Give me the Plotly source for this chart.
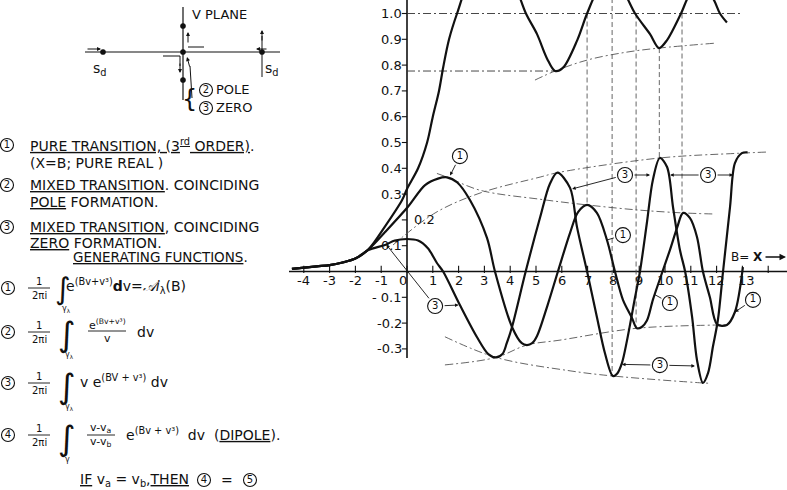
import plotly.graph_objects as go

# ---------------- data ----------------
# Curve (1): pure transition, 3rd order
B_PURE = [-4.46, -3.5, -3.0, -2.5, -2.0, -1.5, -0.85, 0.03, 0.7, 1.2, 1.55, 1.95, 2.44, 3.1, 3.41,
          4.07, 4.45, 4.65, 4.85, 5.04, 5.45, 5.85, 6.32, 6.63, 6.98, 7.36, 7.75, 8.06, 8.37, 8.72,
          8.91, 9.1, 9.3, 9.53, 9.8, 10.19, 10.47, 10.7, 10.97, 11.24, 11.47, 11.74, 12.02, 12.4,
          12.71, 13.02]
V_PURE = [0.01, 0.02, 0.025, 0.035, 0.05, 0.085, 0.153, 0.25, 0.335, 0.36, 0.365, 0.345, 0.277,
          0.13, 0.0, -0.215, -0.278, -0.285, -0.278, -0.25, -0.13, 0.0, 0.15, 0.23, 0.258, 0.227,
          0.122, 0.0, -0.11, -0.18, -0.22, -0.215, -0.19, -0.11, -0.03, 0.083, 0.17, 0.227, 0.207,
          0.134, 0.0, -0.1, -0.205, -0.207, -0.157, 0.017]

# Curve (3): mixed transition, coinciding zero formation
B_ZERO = [-4.46, -3.5, -3.0, -2.5, -2.0, -1.5, -0.85, -0.47, 0.0, 0.43, 0.81, 1.16, 1.4, 2.05, 2.71,
          3.15, 3.45, 3.7, 3.87, 4.07, 4.6, 5.16, 5.54, 5.83, 6.32, 6.59, 6.98, 7.36, 7.67, 7.98,
          8.15, 8.33, 8.53, 8.84, 9.03, 9.3, 9.53, 9.8, 10.08, 10.31, 10.58, 10.78, 11.05, 11.24,
          11.47, 11.67, 11.86, 12.05, 12.25, 12.52, 12.71, 12.98, 13.2]
V_ZERO = [0.01, 0.02, 0.025, 0.035, 0.05, 0.083, 0.103, 0.12, 0.126, 0.12, 0.09, 0.033, 0.0, -0.13,
          -0.254, -0.32, -0.333, -0.32, -0.277, -0.215, 0.0, 0.21, 0.34, 0.383, 0.324, 0.172, 0.0,
          -0.176, -0.316, -0.405, -0.395, -0.355, -0.266, -0.1, 0.0, 0.19, 0.355, 0.44, 0.405, 0.25,
          0.083, 0.0, -0.176, -0.343, -0.432, -0.393, -0.29, -0.188, 0.0, 0.25, 0.42, 0.459, 0.462]

# Large curve: mixed transition, coinciding pole formation
B_POLE = [-4.46, -3.5, -3.0, -2.5, -2.0, -1.5, -0.85, -0.19, 0.0, 0.43, 0.78, 1.0, 1.24, 1.4, 1.63,
          1.94, 2.6, 3.3, 4.0, 4.61, 5.04, 5.43, 5.74, 6.05, 6.6, 6.98, 7.45, 7.87, 8.3, 8.84, 9.42,
          9.77, 10.08, 10.62, 11.0, 11.4, 11.85, 12.13, 12.4]
V_POLE = [0.01, 0.02, 0.025, 0.035, 0.05, 0.085, 0.175, 0.277, 0.32, 0.4, 0.5, 0.6, 0.7, 0.79, 0.9,
          1.0, 1.17, 1.22, 1.15, 1.0, 0.92, 0.825, 0.777, 0.79, 0.897, 1.0, 1.1, 1.13, 1.1, 1.0,
          0.92, 0.866, 0.897, 1.0, 1.08, 1.1, 1.06, 1.0, 0.965]

# envelopes (construction lines)
ENV_POLE_B = [4.96, 5.74, 7.0, 8.5, 9.77, 11.94]
ENV_POLE_V = [0.742, 0.777, 0.82, 0.85, 0.866, 0.885]
ENV_ZMAX_B = [-0.54, 1.09, 2.83, 5.16, 5.83, 9.8, 12.8, 13.95]
ENV_ZMAX_V = [0.103, 0.227, 0.304, 0.366, 0.383, 0.44, 0.458, 0.463]
ENV_PMAX_B = [1.16, 1.55, 2.83, 5.16, 6.98, 9.0, 10.7, 11.86]
ENV_PMAX_V = [0.38, 0.366, 0.315, 0.28, 0.258, 0.238, 0.227, 0.223]
ENV_ZMIN_B = [1.47, 3.45, 6.32, 7.98, 11.47, 11.7]
ENV_ZMIN_V = [-0.253, -0.333, -0.385, -0.405, -0.432, -0.433]
ENV_PMIN_B = [1.47, 3.45, 4.65, 5.93, 8.91, 12.1, 12.35]
ENV_PMIN_V = [-0.362, -0.333, -0.285, -0.266, -0.22, -0.207, -0.206]

# projection lines
HREF_V = [1.0, 0.777]
HREF_B_END = [13.0, 5.74]
VREF_B = [6.98, 7.95, 8.88, 9.78, 10.66]
VREF_TOP = [1.0, 1.06, 1.0, 0.866, 1.0]
VREF_BOT = [0.258, -0.405, -0.22, 0.44, 0.227]

X_TICKS = list(range(-4, 15))
X_TICK_LABELS = ['-4', '-3', '-2', '-1', '0', '1', '2', '3', '4', '5', '6', '7', '8', '9', '10',
                 '11', '12', '13', '']
Y_TICKS = [-0.3, -0.2, -0.1, 0.1, 0.2, 0.3, 0.4, 0.5, 0.6, 0.7, 0.8, 0.9, 1.0]
Y_TICK_LABELS = ['-0.3', '-0.2', '- 0.1', '0.1', '0.2', '0.3', '0.4', '0.5', '0.6', '0.7', '0.8',
                 '0.9', '1.0']

# ---------------- geometry ----------------
W, H = 787, 490
X0PX, XPU = 407.0, 25.8
Y0PX, YPU = 271.5, 258.0
def bx(px): return (px - X0PX) / XPU
def vy(py): return (Y0PX - py) / YPU

INK = '#111111'
GREY = '#555555'
FONT = 'DejaVu Sans'

fig = go.Figure()

def lines(xs, ys, width, dash='solid', color=INK, shape='linear'):
    fig.add_trace(go.Scatter(x=xs, y=ys, mode='lines', hoverinfo='skip', showlegend=False,
                             line=dict(color=color, width=width, dash=dash, shape=shape)))

# axes
lines([bx(289), bx(787) + 1], [0, 0], 1.6)
lines([0, 0], [-0.335, 1.1], 1.6)
tx, ty = [], []
for t in X_TICKS:
    tx += [t, t, None]; ty += [-0.006, 0.022, None]
lines(tx, ty, 1.1)
yx, yy = [], []
for v in Y_TICKS:
    yx += [-0.2, 0, None]; yy += [v, v, None]
lines(yx, yy, 1.1)

# construction lines
ENV_DASH = '8px,3px,2px,3px'
for eb, ev in [(ENV_POLE_B, ENV_POLE_V), (ENV_ZMAX_B, ENV_ZMAX_V), (ENV_PMAX_B, ENV_PMAX_V),
               (ENV_ZMIN_B, ENV_ZMIN_V), (ENV_PMIN_B, ENV_PMIN_V)]:
    lines(eb, ev, 0.9, ENV_DASH, GREY, 'spline')
for v, e in zip(HREF_V, HREF_B_END):
    lines([0, e], [v, v], 0.9, ENV_DASH, '#333333')
for b, t, bt in zip(VREF_B, VREF_TOP, VREF_BOT):
    lines([b, b], [t, bt], 0.9, '5px,3px', GREY)

# curves
for b, v in [(B_POLE, V_POLE), (B_PURE, V_PURE), (B_ZERO, V_ZERO)]:
    fig.add_trace(go.Scatter(x=b, y=v, mode='lines', hoverinfo='skip', showlegend=False,
                             line=dict(color=INK, width=2.2, shape='spline', smoothing=0.9)))

ann = []
def A(**k):
    k.setdefault('showarrow', False)
    k.setdefault('font', dict(family=FONT, size=12, color=INK))
    ann.append(k)

# tick labels
for t, lab in zip(X_TICKS, X_TICK_LABELS):
    A(x=t, y=vy(280), text=lab, xanchor='center', yanchor='middle',
      xshift=-4 if t == 0 else (4 if t >= 13 else 0), font=dict(family=FONT, size=13, color=INK))
for v, lab in zip(Y_TICKS, Y_TICK_LABELS):
    if lab == '0.2':
        A(x=bx(412), y=v, text=lab, xanchor='left', yanchor='middle',
          font=dict(family=FONT, size=13, color=INK))
    else:
        A(x=bx(404), y=v, text=lab, xanchor='right', yanchor='middle',
          font=dict(family=FONT, size=13, color=INK))

# axis name
A(x=bx(747), y=vy(257), text='B= <b>X</b>', xanchor='center', yanchor='middle',
  font=dict(family=FONT, size=12, color=INK))
A(x=bx(786), y=vy(257), ax=bx(764), ay=vy(257), axref='x', ayref='y', text='', showarrow=True,
  arrowhead=2, arrowsize=1, arrowwidth=1.3, arrowcolor=INK)

def circled(points, size, tsize):
    fig.add_trace(go.Scatter(x=[p[0] for p in points], y=[p[1] for p in points],
                             mode='markers+text', text=[p[2] for p in points],
                             textposition='middle center',
                             textfont=dict(family=FONT, size=tsize, color=INK), hoverinfo='skip',
                             showlegend=False,
                             marker=dict(symbol='circle-open', size=size, color=INK,
                                         line=dict(width=1.1, color=INK))))

# circled labels on the graph
LAB = [(2.05, 0.447, '1'), (1.09, -0.134, '3'), (8.45, 0.374, '3'), (11.67, 0.374, '3'),
       (9.8, -0.363, '3'), (8.37, 0.141, '1'), (10.19, -0.122, '1'), (13.41, -0.11, '1')]
circled(LAB, 15, 10)
POINTERS = [(0, 1.67, 0.372, 2), (1, 2.0, -0.13, 2), (1, -0.8, 0.104, 2), (2, 6.4, 0.32, 2),
            (2, 9.42, 0.374, 2), (3, 10.2, 0.374, 2), (3, 12.64, 0.374, 2), (4, 8.33, -0.36, 2),
            (4, 11.16, -0.366, 2), (5, 7.75, 0.122, 0), (6, 9.61, -0.09, 0), (7, 12.71, -0.157, 2)]
for i, x, y, head in POINTERS:
    A(x=x, y=y, ax=LAB[i][0], ay=LAB[i][1], axref='x', ayref='y', text='', showarrow=True,
      arrowhead=head, arrowsize=0.8, arrowwidth=0.9, arrowcolor=INK, startstandoff=8)

# ---------------- left panel (paper coordinates from pixels) ----------------
shapes = []
def P(px, py): return px / W, 1 - py / H
def T(px, py, text, size=14, anchor='left', **kw):
    x, y = P(px, py)
    A(x=x, y=y, xref='paper', yref='paper', text=text, xanchor=anchor, yanchor='middle',
      font=dict(family=FONT, size=size, color=INK), **kw)
def L(x0, y0, x1, y1, w=1.2):
    a, b = P(x0, y0); c, d = P(x1, y1)
    shapes.append(dict(type='line', xref='paper', yref='paper', x0=a, y0=b, x1=c, y1=d,
                       line=dict(color=INK, width=w)))
def DOT(px, py, r=2.6):
    a, b = P(px - r, py - r); c, d = P(px + r, py + r)
    shapes.append(dict(type='circle', xref='paper', yref='paper', x0=a, y0=d, x1=c, y1=b,
                       fillcolor=INK, line=dict(color=INK, width=0.5)))
def ARW(x0, y0, x1, y1, w=1):
    x, y = P(x1, y1)
    A(x=x, y=y, xref='paper', yref='paper', ax=x0 - x1, ay=y0 - y1, text='', showarrow=True,
      arrowhead=2, arrowsize=0.8, arrowwidth=w, arrowcolor=INK)

# V plane sketch
L(85, 52, 280, 52); L(183, 7, 183, 100)
for d in [(103, 52), (183, 52), (262, 52), (183, 26), (183, 80)]:
    DOT(*d)
ARW(86, 49, 101, 49)
ARW(268, 49, 256, 49)
L(262, 36, 262, 77, 1); ARW(262, 42, 262, 30)
T(100, 69, 's<sub>d</sub>', 14, 'center'); T(272, 69, 's<sub>d</sub>', 14, 'center')
T(190, 14, 'V PLANE', 13)
L(163, 56, 180, 56, 1); L(180, 56, 180, 66, 1); ARW(180, 62, 180, 73)
L(188, 47, 204, 47, 1); ARW(188, 44, 188, 32)
L(192, 98, 190, 66, 1); ARW(190, 68, 187, 57)
T(199, 99, '{', 24, 'right')
T(214, 90, 'POLE', 13); T(214, 108, 'ZERO', 13)

# legend text
T(28, 145, '<u>PURE TRANSITION, (3<sup>rd</sup> ORDER)</u>.')
T(28, 163, '(X=B; PURE REAL )')
T(28, 185, '<u>MIXED TRANSITION</u>. COINCIDING')
T(28, 202, '<u>POLE</u> FORMATION.')
T(28, 227, '<u>MIXED TRANSITION</u>, COINCIDING')
T(28, 243, '<u>ZERO</u> FORMATION.')
T(71, 257, '<u>GENERATING FUNCTIONS</u>.', 13.5)

def FRAC(cx, cy, num, den, half, size=10):
    T(cx, cy - 7, num, size, 'center'); T(cx, cy + 7, den, size, 'center')
    L(cx - half, cy, cx + half, cy, 0.9)

def INTEG(px, py, sub, size=30):
    T(px, py, '∫', size, 'left')
    T(px + 7, py + 21, sub, 8, 'left')

# formula 1
FRAC(39, 288, '1', '2πi', 11); INTEG(53, 288, 'γ<sub>λ</sub>')
T(64, 286, 'e<sup>(Bv+v³)</sup><b>d</b>v=<i>𝒜i</i><sub>λ</sub>(B)', 14)
# formula 2
FRAC(39, 332, '1', '2πi', 11); INTEG(56, 334, 'γ<sub>λ</sub>', 34)
FRAC(107, 331, 'e<sup>(Bv+v³)</sup>', 'v', 19, 11)
T(135, 332, 'dv', 14)
# formula 3
FRAC(39, 383, '1', '2πi', 11); INTEG(56, 386, 'γ<sub>λ</sub>', 34)
T(78, 381, 'v e<sup>(BV + v³)</sup> dv', 14)
# formula 4
FRAC(39, 435, '1', '2πi', 11); INTEG(56, 438, 'γ', 34)
FRAC(101, 435, 'v-v<sub>a</sub>', 'v-v<sub>b</sub>', 14, 11)
T(124, 434, 'e<sup>(Bv + v³)</sup>  dv  (<u>DIPOLE</u>).', 14)
# final line
T(78, 480, '<u>IF</u> v<sub>a</sub> = v<sub>b</sub>,<u>THEN</u>', 14)
T(227, 480, '=', 14, 'center')

# circled numerals of the left panel (placed at pixel positions)
LEFT_CIRCLES = [(7, 145, '1'), (7, 185, '2'), (7, 227, '3'), (8, 288, '1'), (8, 332, '2'),
                (8, 383, '3'), (8, 435, '4'), (204, 480, '4'), (250, 480, '5'), (206, 90, '2'),
                (206, 108, '3')]
circled([(bx(p[0]), vy(p[1]), p[2]) for p in LEFT_CIRCLES], 13, 10)

fig.update_layout(
    width=W, height=H, margin=dict(l=0, r=0, t=0, b=0),
    paper_bgcolor='white', plot_bgcolor='white', showlegend=False,
    xaxis=dict(range=[bx(0), bx(W)], visible=False, fixedrange=True),
    yaxis=dict(range=[vy(H), vy(0)], visible=False, fixedrange=True),
    annotations=ann, shapes=shapes, font=dict(family=FONT, color=INK),
)
fig.write_html('out.html')
